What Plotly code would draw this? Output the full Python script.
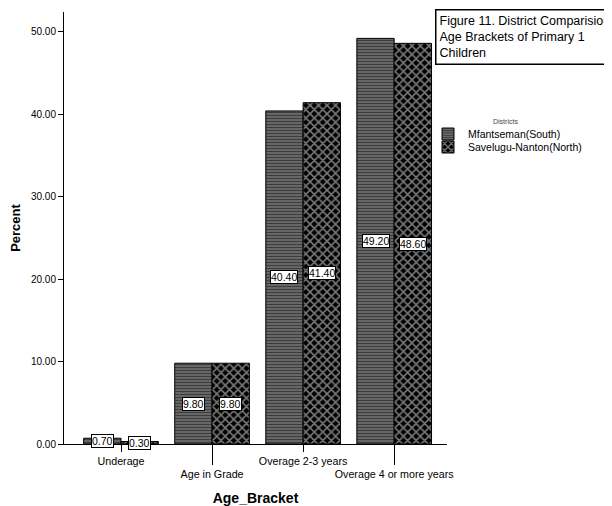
import plotly.graph_objects as go

categories = ["Underage", "Age in Grade", "Overage 2-3 years", "Overage 4 or more years"]
mfantseman = [0.70, 9.80, 40.40, 49.20]
savelugu = [0.30, 9.80, 41.40, 48.60]
series_names = ["Mfantseman(South)", "Savelugu-Nanton(North)"]
y_ticks = [0, 10, 20, 30, 40, 50]

FONT = "Liberation Sans, Arial, sans-serif"
x_idx = list(range(len(categories)))
bargap = 0.18
bar_w = (1 - bargap) / 2

# page body has an 8px margin, so the figure is drawn offset by 8px
OFF = 8
W, H = 612 - OFF, 506 - OFF
L, T = 64 - OFF, 12 - OFF
R = W - (447 - OFF)
B = H - (444 - OFF)
PW, PH = W - L - R, H - T - B


def px_x(px):
    return (px - OFF - L) / PW


def px_y(py):
    return 1 - (py - OFF - T) / PH


fig = go.Figure()
fig.add_trace(go.Bar(
    x=x_idx, y=mfantseman, name=series_names[0], legend="legend",
    marker=dict(color="#777777", line=dict(color="black", width=1),
                pattern=dict(shape="-", fgcolor="#000000", bgcolor="#7a7a7a",
                             size=3, solidity=0.55, fillmode="overlay")),
))
fig.add_trace(go.Bar(
    x=x_idx, y=savelugu, name=series_names[1], legend="legend2",
    marker=dict(color="black", line=dict(color="black", width=1),
                pattern=dict(shape="x", fgcolor="#f4f4f4", bgcolor="#000000",
                             size=6, solidity=0.45, fillmode="overlay")),
))
# invisible trace for secondary (staggered) tick axis
fig.add_trace(go.Scatter(x=x_idx, y=[0] * len(x_idx), xaxis="x2", mode="markers",
                         marker=dict(opacity=0), showlegend=False, hoverinfo="skip"))

annotations = []
for vals, off in ((mfantseman, -bar_w / 2), (savelugu, bar_w / 2)):
    for i, v in zip(x_idx, vals):
        annotations.append(dict(
            x=i + off, y=v / 2, xref="x", yref="y", text=f"{v:.2f}", showarrow=False,
            font=dict(family=FONT, size=10.5, color="black"),
            bgcolor="white", bordercolor="black", borderwidth=1, borderpad=0,
        ))

annotations.append(dict(
    x=px_x(435), y=px_y(9), xref="paper", yref="paper", xanchor="left", yanchor="top",
    text="Figure 11. District Comparision<br>Age Brackets of Primary 1<br>Children",
    align="left", showarrow=False, width=200,
    font=dict(family=FONT, size=12.5, color="black"),
    bordercolor="black", borderwidth=1.5, borderpad=3, bgcolor="white",
))
annotations.append(dict(
    x=px_x(520), y=px_y(116), xref="paper", yref="paper",
    text="Districts", showarrow=False, font=dict(family=FONT, size=7, color="#444444"),
))

leg_common = dict(xanchor="left", yanchor="middle", bgcolor="rgba(0,0,0,0)",
                  font=dict(family=FONT, size=10.5, color="black"), itemwidth=30)

fig.update_layout(
    width=W, height=H,
    margin=dict(l=L, r=R, t=T, b=B, autoexpand=False),
    paper_bgcolor="white", plot_bgcolor="white",
    barmode="group", bargap=bargap, bargroupgap=0,
    font=dict(family=FONT, size=10.7, color="black"),
    xaxis=dict(
        range=[-0.626, 3.58], tickmode="array", tickvals=[0, 2],
        ticktext=[categories[0], categories[2]],
        ticks="outside", ticklen=7, tickcolor="black", tickwidth=1,
        showline=True, linecolor="black", linewidth=1, showgrid=False, zeroline=False,
        tickfont=dict(family=FONT, size=10.7, color="black"),
        title=dict(text="<b>Age_Bracket</b>", font=dict(family=FONT, size=14, color="black"), standoff=28),
        automargin=False,
    ),
    xaxis2=dict(
        overlaying="x", matches="x", anchor="y", side="bottom",
        tickmode="array", tickvals=[1, 3], ticktext=[categories[1], categories[3]],
        ticks="outside", ticklen=20, tickcolor="black", tickwidth=1,
        showline=False, showgrid=False, zeroline=False,
        tickfont=dict(family=FONT, size=10.7, color="black"),
        automargin=False,
    ),
    yaxis=dict(
        range=[0, 52.4], tickmode="array", tickvals=y_ticks,
        ticktext=[f"{t:.2f}" for t in y_ticks],
        ticks="outside", ticklen=5, tickcolor="black", tickwidth=1,
        showline=True, linecolor="black", linewidth=1, showgrid=False, zeroline=False,
        tickfont=dict(family=FONT, size=10, color="black"),
        title=dict(text="<b>Percent</b>", font=dict(family=FONT, size=13, color="black"), standoff=9),
        automargin=False,
    ),
    legend=dict(x=px_x(428), y=px_y(134), **leg_common),
    legend2=dict(x=px_x(428), y=px_y(147), **leg_common),
    annotations=annotations,
)

fig.write_html("out.html")
